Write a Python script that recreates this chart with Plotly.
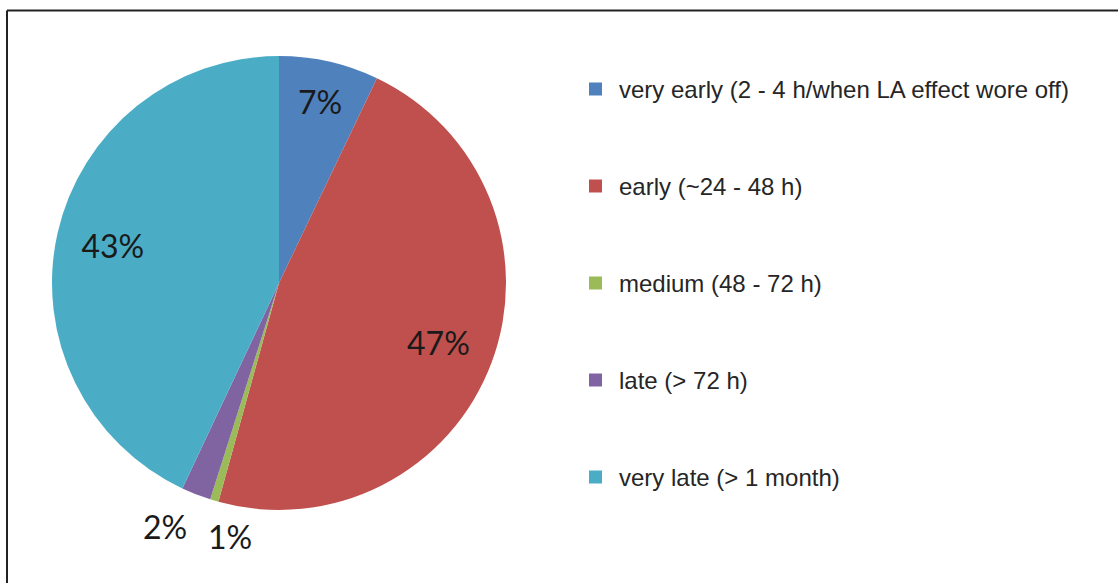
import math
import plotly.graph_objects as go

# Data
categories = [
    "very early (2 - 4 h/when LA effect wore off)",
    "early (~24 - 48 h)",
    "medium (48 - 72 h)",
    "late (> 72 h)",
    "very late (> 1 month)",
]
values = [7.1, 47.2, 0.6, 2.1, 43.0]
colors = ["#4F81BD", "#C0504D", "#9BBB59", "#8064A2", "#4BACC6"]
outside_label = [False, False, True, True, False]

W, H = 1118, 583
# pie box (pixels)
PX0, PX1, PY0, PY1 = 52, 506, 56, 510
CX, CY, R = (PX0 + PX1) / 2, (PY0 + PY1) / 2, (PX1 - PX0) / 2
dom = dict(x=[PX0 / W, PX1 / W], y=[1 - PY1 / H, 1 - PY0 / H])

label_font = dict(family="Lato, Open Sans, sans-serif", size=32, color="#1a1a1a")

fig = go.Figure()
# main pie (no text)
fig.add_trace(go.Pie(
    labels=categories, values=values, sort=False, direction="clockwise", rotation=0,
    marker=dict(colors=colors, line=dict(width=0)),
    textinfo="none", domain=dom, showlegend=False, hoverinfo="label+percent",
))
# transparent ring overlay to place inside percentage labels further out
fig.add_trace(go.Pie(
    labels=categories, values=values, sort=False, direction="clockwise", rotation=0,
    hole=0.5,
    marker=dict(colors=["rgba(0,0,0,0)"] * len(values), line=dict(width=0)),
    texttemplate=["" if o else "%{percent:.0%}" for o in outside_label],
    textposition="inside", insidetextorientation="horizontal",
    textfont=label_font, domain=dom, showlegend=False, hoverinfo="skip",
))

annotations = []
# outside labels for the thin slices, placed from the slice mid-angles
total = sum(values)
cum = 0.0
label_shift = {2: (27, 0), 3: (-17, -3)}
for i, v in enumerate(values):
    mid = (cum + v / 2) / total * 2 * math.pi
    cum += v
    if not outside_label[i]:
        continue
    rr = R * 1.167
    px = CX + rr * math.sin(mid)
    py = CY - rr * math.cos(mid)
    dx, dy = label_shift.get(i, (0, 0))
    annotations.append(dict(
        x=(px + dx) / W, y=1 - (py + dy) / H, xref="paper", yref="paper",
        text=f"{round(v / total * 100)}%", showarrow=False,
        xanchor="center", yanchor="middle", font=label_font,
    ))

# Custom legend (built from categories/colors)
legend_top = 89
legend_step = 97
shapes = []
for i, (lab, col) in enumerate(zip(categories, colors)):
    yc = legend_top + i * legend_step
    shapes.append(dict(
        type="rect", xref="paper", yref="paper",
        x0=589 / W, x1=602 / W, y0=1 - (yc + 6.5) / H, y1=1 - (yc - 6.5) / H,
        fillcolor=col, line=dict(width=0),
    ))
    annotations.append(dict(
        x=617 / W, y=1 - yc / H, xref="paper", yref="paper",
        text=lab, showarrow=False, xanchor="left", yanchor="middle",
        font=dict(family="Liberation Sans, Arial, sans-serif", size=24, color="#262626"),
    ))

# Frame lines (top and left)
shapes.append(dict(type="line", xref="paper", yref="paper",
                   x0=7 / W, x1=1, y0=1 - 10.5 / H, y1=1 - 10.5 / H,
                   line=dict(color="#222222", width=2)))
shapes.append(dict(type="line", xref="paper", yref="paper",
                   x0=7 / W, x1=7 / W, y0=0, y1=1 - 10.5 / H,
                   line=dict(color="#222222", width=2)))

fig.update_layout(
    width=W, height=H,
    margin=dict(l=0, r=0, t=0, b=0),
    paper_bgcolor="white",
    plot_bgcolor="white",
    shapes=shapes,
    annotations=annotations,
)

fig.write_html("out.html", config={"displayModeBar": False},
               post_script="document.body.style.margin='0px';document.body.style.overflow='hidden';")
